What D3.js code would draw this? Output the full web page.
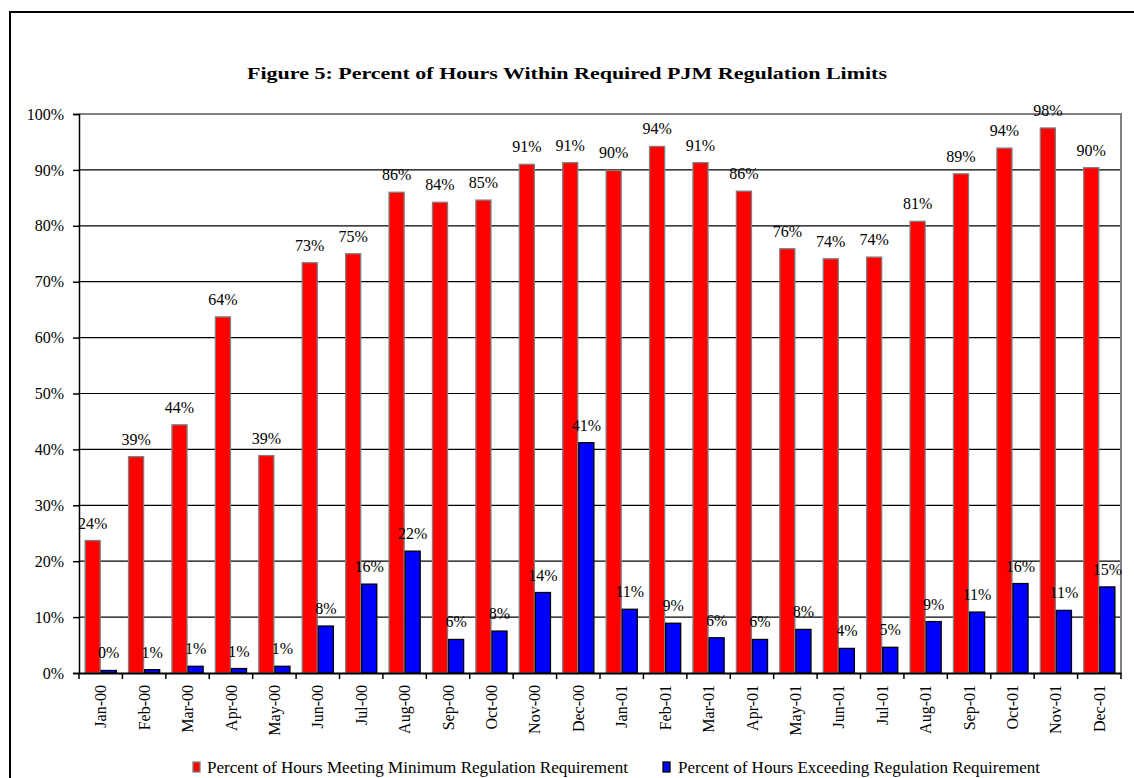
<!DOCTYPE html>
<html><head><meta charset="utf-8">
<script src="https://cdn.jsdelivr.net/npm/d3@7"></script>
<style>body{margin:0;background:#fff}svg{display:block}svg text{font-family:"Liberation Serif","Times New Roman",serif}</style>
</head><body><svg id="c" width="1134" height="778"></svg>
<script>
const months = ["Jan-00","Feb-00","Mar-00","Apr-00","May-00","Jun-00","Jul-00","Aug-00","Sep-00","Oct-00","Nov-00","Dec-00",
 "Jan-01","Feb-01","Mar-01","Apr-01","May-01","Jun-01","Jul-01","Aug-01","Sep-01","Oct-01","Nov-01","Dec-01"];
const meeting = [23.7,38.7,44.4,63.7,38.9,73.4,75.0,86.0,84.2,84.6,91.0,91.3,89.9,94.2,91.3,86.2,75.9,74.1,74.4,80.8,89.3,93.9,97.5,90.4];
const exceeding = [0.45,0.6,1.2,0.8,1.2,8.4,15.9,21.8,6.0,7.5,14.4,41.2,11.4,8.9,6.3,6.0,7.8,4.4,4.6,9.2,10.9,16.0,11.2,15.4];
const yTicks = [0,10,20,30,40,50,60,70,80,90,100];
const seriesNames = ["Percent of Hours Meeting Minimum Regulation Requirement","Percent of Hours Exceeding Regulation Requirement"];
const colors = ["#ff0000","#0000ff"];
const strokes = ["#808080","#000000"];

const FF = "Liberation Serif";
const svg = d3.select("#c");
const L=79,R=1121,T=114,B=673;
svg.append("rect").attr("x",10).attr("y",12).attr("width",1140).attr("height",800)
  .attr("fill","none").attr("stroke","#000").attr("stroke-width",2);
svg.append("text").attr("x",247).attr("y",79).attr("font-family",FF)
  .attr("font-weight","bold").attr("font-size",17).attr("textLength",640).attr("lengthAdjust","spacingAndGlyphs")
  .text("Figure 5: Percent of Hours Within Required PJM Regulation Limits");

const x = d3.scaleBand().domain(months).range([L,R]).paddingInner(0).paddingOuter(0);
const y = d3.scaleLinear().domain([0,100]).range([B,T]);
const bw = x.bandwidth()/2.7, off = bw*0.35;

svg.append("g").selectAll("line").data(yTicks.filter(d=>d>0&&d<100)).join("line")
  .attr("x1",L).attr("x2",R).attr("y1",d=>y(d)).attr("y2",d=>y(d)).attr("stroke","#000").attr("stroke-width",1.2);
svg.append("path").attr("d",`M${L},${y(100)}H${R}V${B}`).attr("fill","none").attr("stroke","#808080").attr("stroke-width",2);

const data = months.map((m,i)=>({m,v:[meeting[i],exceeding[i]]}));
[0,1].forEach(s=>{
  svg.append("g").selectAll("rect").data(data).join("rect")
    .attr("x",d=>x(d.m)+off+s*bw+0.5).attr("width",bw-1)
    .attr("y",d=>y(d.v[s])).attr("height",d=>B-y(d.v[s]))
    .attr("fill",colors[s]).attr("stroke",strokes[s]).attr("stroke-width",1.3);
  svg.append("g").selectAll("text").data(data).join("text")
    .attr("x",d=>x(d.m)+off+s*bw+bw/2).attr("y",d=>y(d.v[s])-12)
    .attr("text-anchor","middle").attr("font-size",16).attr("font-family",FF).attr("fill","#000")
    .text(d=>Math.round(d.v[s])+"%");
});

const ya = svg.append("g").attr("transform",`translate(${L},0)`)
  .call(d3.axisLeft(y).tickValues(yTicks).tickFormat(d=>d+"%").tickSize(6).tickPadding(9));
ya.attr("font-family",FF);
ya.select(".domain").attr("stroke","#000").attr("stroke-width",1.5);
ya.selectAll("text").attr("font-size",16).attr("font-family",FF).attr("fill","#000");
ya.selectAll("line").attr("stroke-width",1.5);

const xa = svg.append("g").attr("transform",`translate(0,${B})`)
  .call(d3.axisBottom(x).tickSize(0).tickSizeOuter(0));
xa.attr("font-family",FF);
xa.select(".domain").attr("stroke","#000").attr("stroke-width",2);
xa.selectAll(".tick text").attr("font-size",16).attr("font-family",FF).attr("fill","#000")
  .attr("text-anchor","end").attr("transform","rotate(-90)").attr("x",-12).attr("y",0).attr("dy","0.35em");
svg.append("g").selectAll("line").data(d3.range(months.length+1)).join("line")
  .attr("x1",i=>L+i*x.step()).attr("x2",i=>L+i*x.step()).attr("y1",B).attr("y2",B+6)
  .attr("stroke","#000").attr("stroke-width",1.5);

const lg = [{x:193,tx:207,w:421},{x:663,tx:678,w:362}];
lg.forEach((p,i)=>{
  svg.append("rect").attr("x",p.x).attr("y",762).attr("width",7).attr("height",10)
    .attr("fill",colors[i]).attr("stroke",strokes[i]).attr("stroke-width",1.3);
  svg.append("text").attr("x",p.tx).attr("y",773).attr("font-size",16).attr("font-family",FF)
    .attr("textLength",p.w).attr("lengthAdjust","spacingAndGlyphs").text(seriesNames[i]);
});
</script></body></html>
